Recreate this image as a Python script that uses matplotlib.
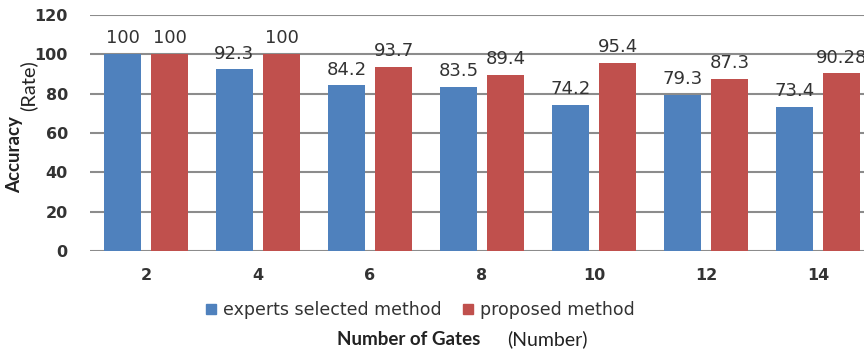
import matplotlib
matplotlib.use("Agg")
import matplotlib.pyplot as plt
from matplotlib.lines import Line2D
import numpy as np

# Accuracy of the two approaches for each gate count
gates = ["2", "4", "6", "8", "10", "12", "14"]
experts = [100, 92.3, 84.2, 83.5, 74.2, 79.3, 73.4]
proposed = [100, 100, 93.7, 89.4, 95.4, 87.3, 90.28]
expert_labels = ["100", "92.3", "84.2", "83.5", "74.2", "79.3", "73.4"]
proposed_labels = ["100", "100", "93.7", "89.4", "95.4", "87.3", "90.28"]
yticks = [0, 20, 40, 60, 80, 100, 120]

BLUE = "#4F81BD"
RED = "#C0504D"
TXT = "#333333"

W, H = 864, 356
fig = plt.figure(figsize=(W / 100, H / 100), dpi=100)


def fx(px):
    return px / W


def fy(py):
    return 1 - py / H


# axes spans past the right edge of the canvas
left, right, top, bottom = 90, 874, 15, 251
ax = fig.add_axes([fx(left), fy(bottom), fx(right - left), fy(top) - fy(bottom)])

x = np.arange(len(gates))
bw = 0.33
off = 0.21
ax.bar(x - off, experts, width=bw, color=BLUE, zorder=3)
ax.bar(x + off, proposed, width=bw, color=RED, zorder=3)

for xi, v, s in zip(x, experts, expert_labels):
    ax.text(xi - off, v + 3.5, s, ha="center", va="bottom", fontsize=13,
            color=TXT, zorder=4)
for xi, v, s in zip(x, proposed, proposed_labels):
    ax.text(xi + off, v + 3.5, s, ha="center", va="bottom", fontsize=13,
            color=TXT, zorder=4)

ax.set_xlim(-0.5, 6.5)
ax.set_ylim(0, 120)
ax.set_yticks(yticks)
ax.set_yticklabels([str(t) for t in yticks], fontsize=11.5, fontweight="bold",
                   color=TXT)
ax.set_xticks(x)
ax.set_xticklabels(gates, fontsize=11.5, fontweight="bold", color=TXT)
ax.tick_params(axis="y", length=0, pad=16)
ax.tick_params(axis="x", length=0, pad=12)
ax.grid(axis="y", color="#8c8c8c", linewidth=1.5, zorder=0)
ax.set_axisbelow(True)
for sp in ax.spines.values():
    sp.set_visible(False)

# legend
handles = [
    Line2D([], [], marker="s", linestyle="none", markersize=7,
           markerfacecolor=BLUE, markeredgecolor=BLUE),
    Line2D([], [], marker="s", linestyle="none", markersize=7,
           markerfacecolor=RED, markeredgecolor=RED),
]
fig.legend(handles, ["experts selected method", "proposed method"],
           loc="center", bbox_to_anchor=(fx(420), fy(310)), ncol=2,
           frameon=False, fontsize=12.5, handlelength=0.6, handletextpad=0.4,
           columnspacing=1.2, labelcolor=TXT)

# axis titles
fig.text(fx(337), fy(345), "Number of Gates", ha="left", va="baseline",
         fontsize=13.5, fontweight="bold", family="Lato", color="#222222")
fig.text(fx(507), fy(345), "(Number)", ha="left", va="baseline",
         fontsize=14, family="Lato", color="#222222")
fig.text(fx(15), fy(155), "Accuracy", rotation=90, ha="center", va="center",
         fontsize=13.5, fontweight="bold", family="Lato", color="#222222")
fig.text(fx(28), fy(86), "(Rate)", rotation=90, ha="center", va="center",
         fontsize=14.5, family="Lato", color="#222222")

fig.savefig("out.png", dpi=100, facecolor="white")
